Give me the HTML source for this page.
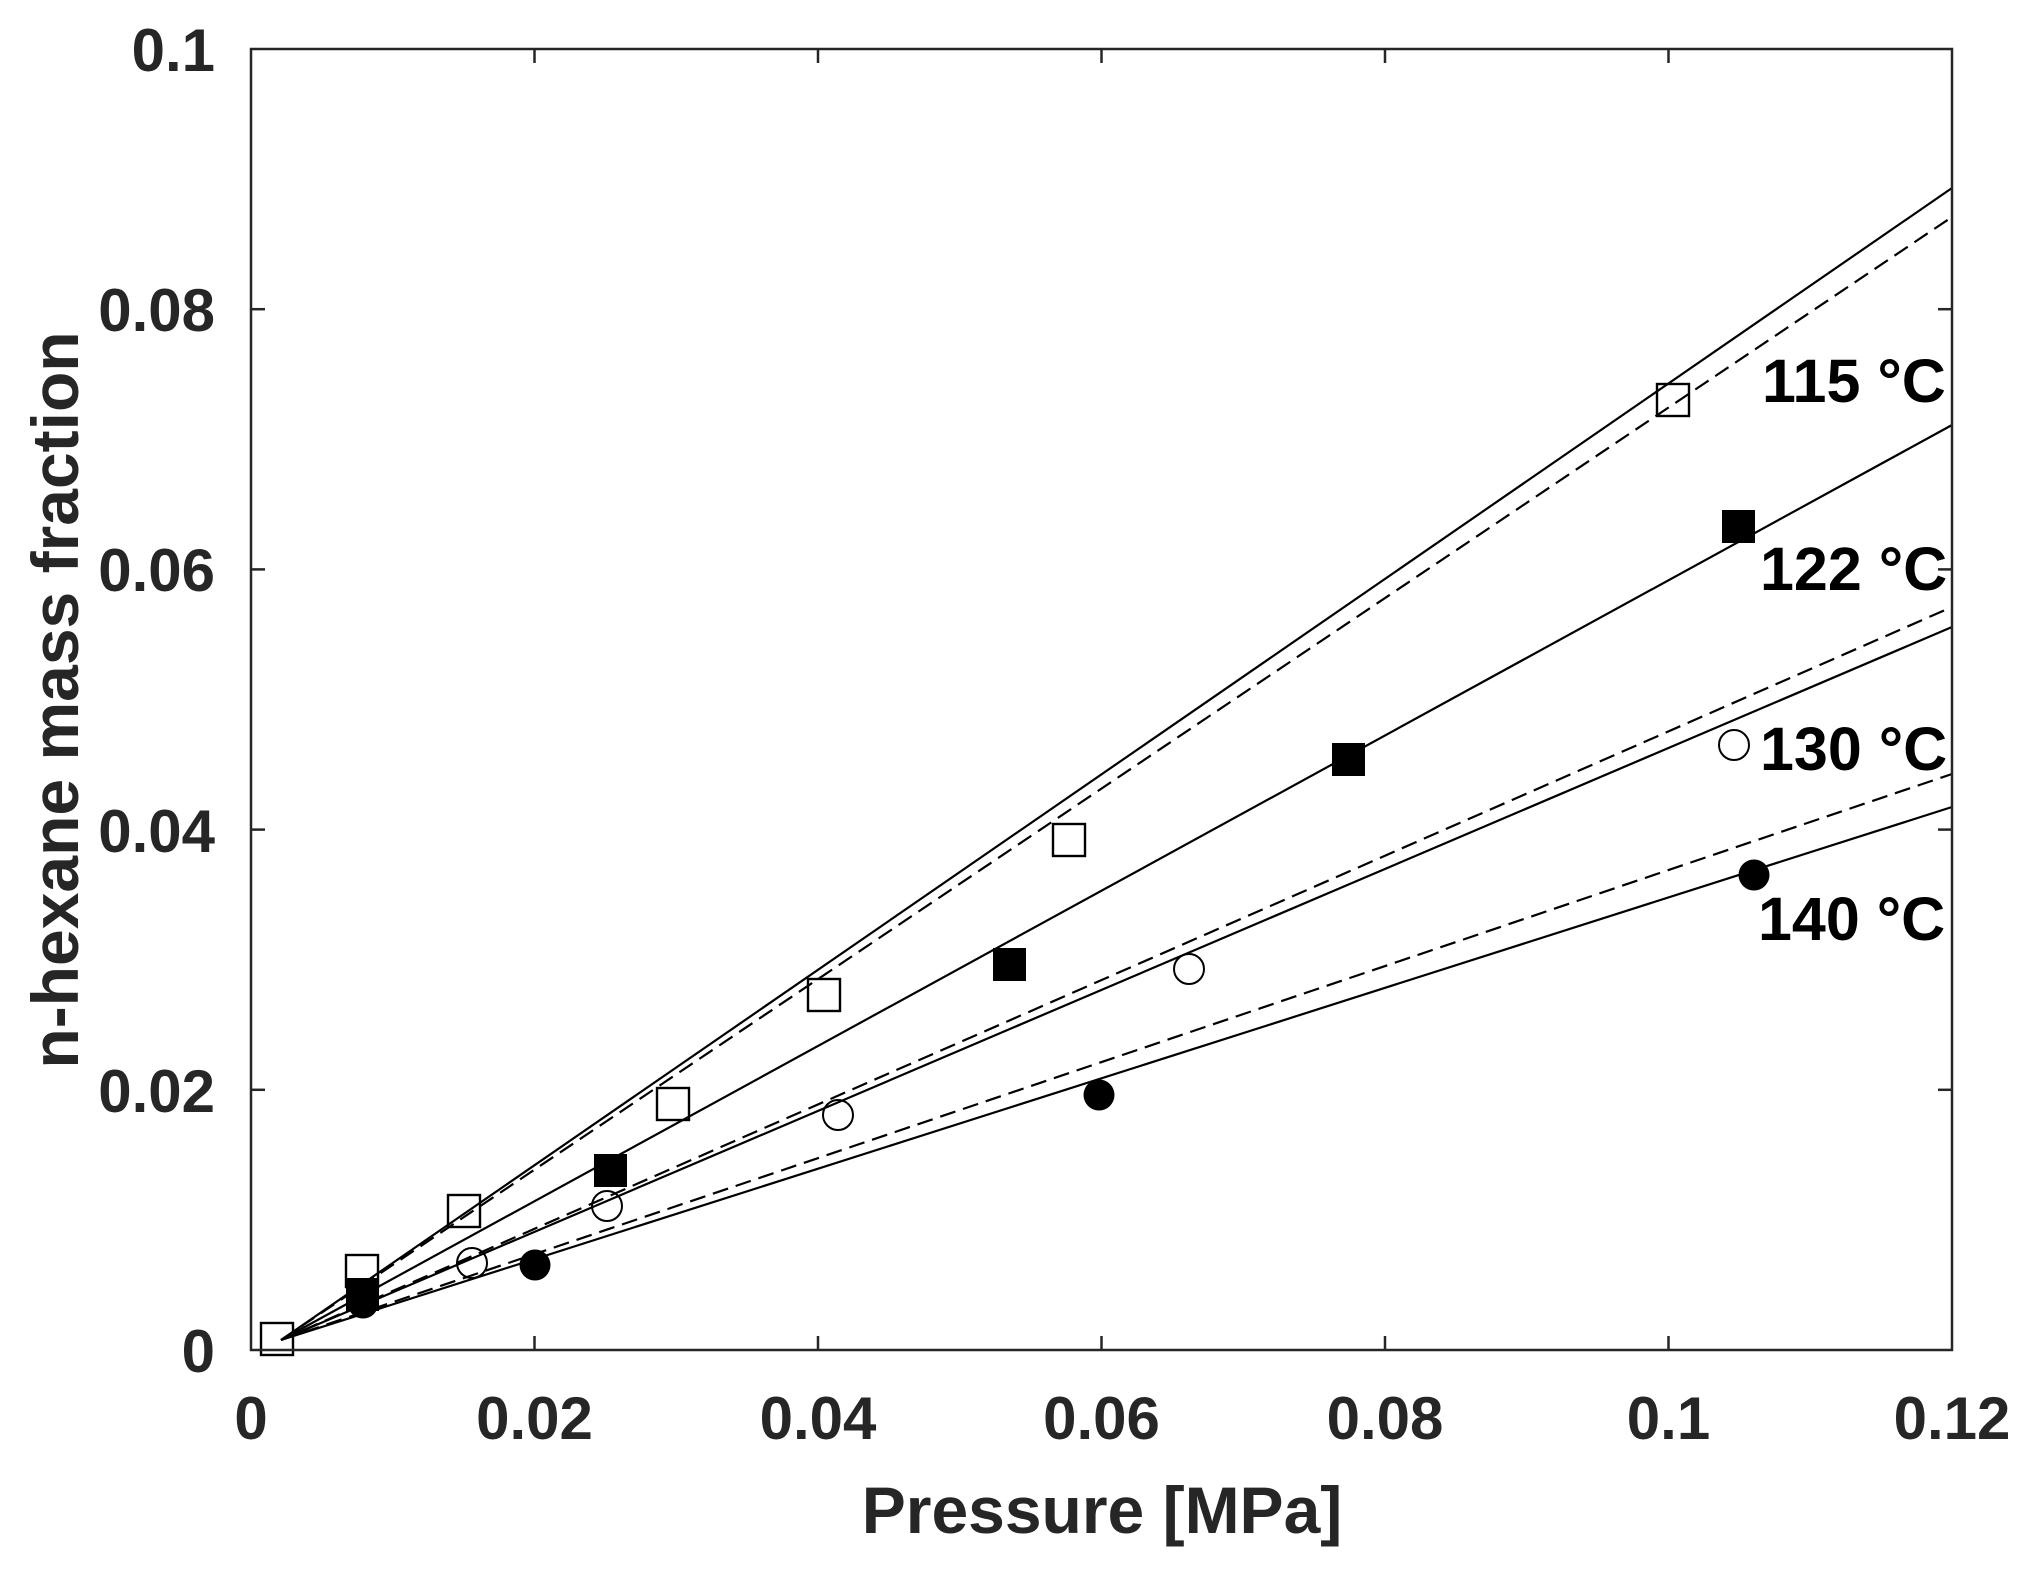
<!DOCTYPE html>
<html><head><meta charset="utf-8"><style>
html,body{margin:0;padding:0;background:#fff;}
svg{display:block;}
text{font-family:"Liberation Sans",Arial,sans-serif;font-weight:bold;}
</style></head><body>
<svg width="2044" height="1572" viewBox="0 0 2044 1572" xmlns="http://www.w3.org/2000/svg">
<rect width="2044" height="1572" fill="#fff"/>
<!-- lines -->
<g stroke="#000" stroke-width="2.2" fill="none">
<line x1="281" y1="1340" x2="1952" y2="188"/>
<line x1="281" y1="1340" x2="1952" y2="217" stroke-dasharray="16,8"/>
<line x1="281" y1="1340" x2="1952" y2="425"/>
<line x1="281" y1="1340" x2="1952" y2="607" stroke-dasharray="16,8"/>
<line x1="281" y1="1340" x2="1952" y2="627"/>
<line x1="281" y1="1340" x2="1952" y2="774" stroke-dasharray="16,8"/>
<line x1="281" y1="1340" x2="1952" y2="807"/>
</g>
<!-- 115 open squares -->
<g fill="none" stroke="#000" stroke-width="2.4">
<rect x="261" y="1323" width="32" height="32"/>
<rect x="346" y="1255" width="32" height="32"/>
<rect x="448" y="1195" width="32" height="32"/>
<rect x="657" y="1088" width="32" height="32"/>
<rect x="808" y="979" width="32" height="32"/>
<rect x="1053" y="824" width="32" height="32"/>
<rect x="1657" y="384" width="32" height="32"/>
</g>
<!-- 130 open circles -->
<g fill="none" stroke="#000" stroke-width="2">
<circle cx="363" cy="1301" r="15"/>
<circle cx="472" cy="1263" r="15"/>
<circle cx="607" cy="1206" r="15"/>
<circle cx="838" cy="1115" r="15"/>
<circle cx="1189" cy="969" r="15"/>
<circle cx="1734" cy="745" r="15"/>
</g>
<!-- 122 filled squares -->
<g fill="#000">
<rect x="346" y="1278" width="33" height="33"/>
<rect x="594" y="1154" width="33" height="33"/>
<rect x="993" y="948" width="33" height="33"/>
<rect x="1332" y="743" width="33" height="33"/>
<rect x="1722" y="510" width="33" height="33"/>
</g>
<!-- 140 filled circles -->
<g fill="#000">
<circle cx="363" cy="1303" r="15.5"/>
<circle cx="535" cy="1265" r="15.5"/>
<circle cx="1099" cy="1095" r="15.5"/>
<circle cx="1754" cy="875" r="15.5"/>
</g>
<!-- axes box -->
<rect x="251" y="49" width="1701" height="1301" fill="none" stroke="#262626" stroke-width="2.5"/>
<g stroke="#262626" stroke-width="2.5">
<line x1="534.5" y1="1350" x2="534.5" y2="1336"/><line x1="818" y1="1350" x2="818" y2="1336"/><line x1="1101.5" y1="1350" x2="1101.5" y2="1336"/><line x1="1385" y1="1350" x2="1385" y2="1336"/><line x1="1668.5" y1="1350" x2="1668.5" y2="1336"/>
<line x1="534.5" y1="49" x2="534.5" y2="63"/><line x1="818" y1="49" x2="818" y2="63"/><line x1="1101.5" y1="49" x2="1101.5" y2="63"/><line x1="1385" y1="49" x2="1385" y2="63"/><line x1="1668.5" y1="49" x2="1668.5" y2="63"/>
<line x1="251" y1="1089.8" x2="265" y2="1089.8"/><line x1="251" y1="829.6" x2="265" y2="829.6"/><line x1="251" y1="569.4" x2="265" y2="569.4"/><line x1="251" y1="309.2" x2="265" y2="309.2"/>
<line x1="1952" y1="1089.8" x2="1938" y2="1089.8"/><line x1="1952" y1="829.6" x2="1938" y2="829.6"/><line x1="1952" y1="569.4" x2="1938" y2="569.4"/><line x1="1952" y1="309.2" x2="1938" y2="309.2"/>
</g>
<!-- tick labels -->
<g fill="#262626" font-size="60">
<g text-anchor="end">
<text x="215" y="1372">0</text>
<text x="215" y="1112">0.02</text>
<text x="215" y="852">0.04</text>
<text x="215" y="591">0.06</text>
<text x="215" y="331">0.08</text>
<text x="215" y="71">0.1</text>
</g>
<g text-anchor="middle">
<text x="251" y="1439">0</text>
<text x="534.5" y="1439">0.02</text>
<text x="818" y="1439">0.04</text>
<text x="1101.5" y="1439">0.06</text>
<text x="1385" y="1439">0.08</text>
<text x="1668.5" y="1439">0.1</text>
<text x="1952" y="1439">0.12</text>
</g>
<text x="1102" y="1533" text-anchor="middle" font-size="66">Pressure [MPa]</text>
<text transform="translate(78,700) rotate(-90)" text-anchor="middle" font-size="66">n-hexane mass fraction</text>
</g>
<!-- curve labels -->
<g fill="#000" font-size="61">
<text x="1762" y="402">115 °C</text>
<text x="1760" y="590">122 °C</text>
<text x="1760" y="770">130 °C</text>
<text x="1758" y="940">140 °C</text>
</g>
</svg>
</body></html>
